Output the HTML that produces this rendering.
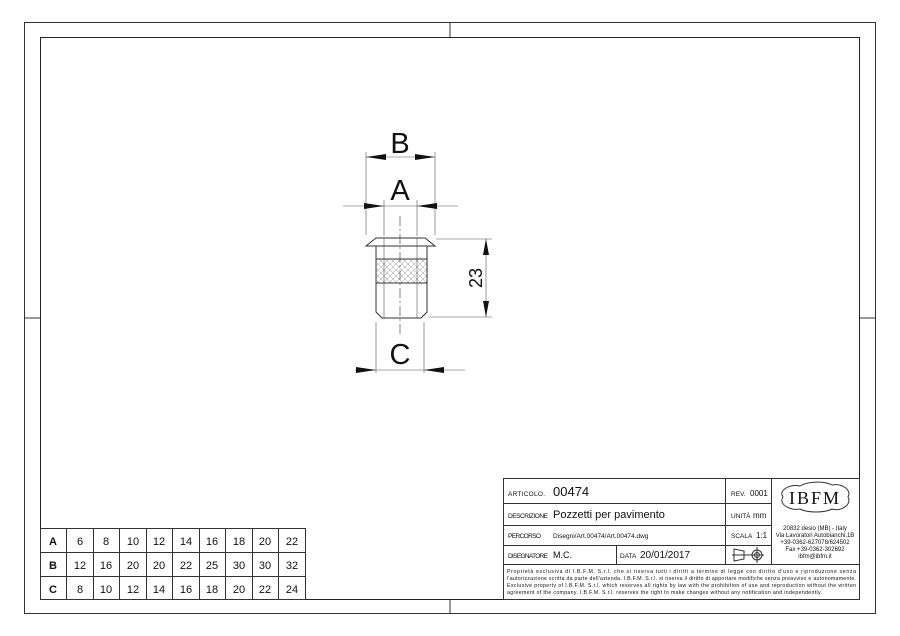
<!DOCTYPE html>
<html><head><style>
body{margin:0;background:#fff}
svg{display:block}
text{font-family:"Liberation Sans",sans-serif;fill:#111}
</style></head><body>
<svg width="900" height="636" viewBox="0 0 900 636" xmlns="http://www.w3.org/2000/svg">
<defs>
<pattern id="kn" width="6" height="6" patternUnits="userSpaceOnUse"><path d="M0 0L6 6M6 0L0 6" stroke="#999" stroke-width="0.5"/></pattern>
</defs>
<rect x="24.5" y="22.5" width="851" height="591" fill="none" stroke="#333" stroke-width="1"/>
<rect x="40.5" y="37.5" width="819" height="562" fill="none" stroke="#222" stroke-width="1"/>
<g stroke="#333" stroke-width="1">
<line x1="450" y1="22" x2="450" y2="37"/><line x1="450" y1="600" x2="450" y2="614"/>
<line x1="24" y1="318" x2="40" y2="318"/><line x1="860" y1="318" x2="876" y2="318"/>
</g>
<g stroke="#333" stroke-width="1" fill="none">
<rect x="376" y="259" width="52" height="24" fill="url(#kn)" stroke="none"/>
<path d="M366 246 L376 238 L425 238 L435 246 Z"/>
<path d="M376 246 L376 312 L382 318 L421 318 L427 312 L427 246"/>
<line x1="376" y1="259" x2="427" y2="259"/><line x1="376" y1="283" x2="427" y2="283"/>
<line x1="384" y1="238" x2="384" y2="318" stroke-width="0.5"/><line x1="417" y1="238" x2="417" y2="318" stroke-width="0.5"/>
<line x1="400" y1="216" x2="400" y2="335" stroke-width="0.6" stroke-dasharray="10,3,2,3"/>
</g>
<g stroke="#555" stroke-width="0.6">
<line x1="366" y1="152" x2="366" y2="235"/><line x1="435" y1="152" x2="435" y2="235"/>
<line x1="366" y1="157" x2="435" y2="157"/>
<line x1="384" y1="200" x2="384" y2="236"/><line x1="417" y1="200" x2="417" y2="236"/>
<line x1="343" y1="206" x2="458" y2="206"/>
<line x1="376" y1="322" x2="376" y2="373"/><line x1="424" y1="322" x2="424" y2="373"/>
<line x1="355" y1="370" x2="465" y2="370"/>
<line x1="436" y1="239" x2="492" y2="239"/><line x1="428" y1="317" x2="492" y2="317"/>
<line x1="486" y1="239" x2="486" y2="317"/>
</g>
<g fill="#111">
<path d="M366 157 L386 154 L386 160Z"/><path d="M435 157 L415 154 L415 160Z"/>
<path d="M384 206 L364 203 L364 209Z"/><path d="M417 206 L437 203 L437 209Z"/>
<path d="M376 370 L356 367 L356 373Z"/><path d="M424 370 L444 367 L444 373Z"/>
<path d="M486 239 L483 255 L489 255Z"/><path d="M486 317 L483 301 L489 301Z"/>
</g>
<text x="400" y="153" font-size="29" text-anchor="middle">B</text>
<text x="400" y="200" font-size="29" text-anchor="middle">A</text>
<text x="400" y="364" font-size="29" text-anchor="middle">C</text>
<text transform="translate(482,278) rotate(-90)" font-size="18" text-anchor="middle">23</text>
<g stroke="#333" stroke-width="1" fill="none">
<rect x="40.5" y="528.5" width="265" height="71"/>
<line x1="40" y1="552.5" x2="305" y2="552.5"/><line x1="40" y1="576.5" x2="305" y2="576.5"/>
<line x1="66.5" y1="528" x2="66.5" y2="600"/><line x1="93.5" y1="528" x2="93.5" y2="600"/>
<line x1="119.5" y1="528" x2="119.5" y2="600"/><line x1="146.5" y1="528" x2="146.5" y2="600"/>
<line x1="172.5" y1="528" x2="172.5" y2="600"/><line x1="199.5" y1="528" x2="199.5" y2="600"/>
<line x1="225.5" y1="528" x2="225.5" y2="600"/><line x1="252.5" y1="528" x2="252.5" y2="600"/>
<line x1="278.5" y1="528" x2="278.5" y2="600"/>
</g>
<g font-size="11" text-anchor="middle">
<text x="53" y="545" font-weight="bold">A</text><text x="53" y="569" font-weight="bold">B</text><text x="53" y="593" font-weight="bold">C</text>
<text x="80" y="545">6</text><text x="106" y="545">8</text><text x="133" y="545">10</text><text x="159" y="545">12</text><text x="186" y="545">14</text><text x="212" y="545">16</text><text x="239" y="545">18</text><text x="265" y="545">20</text><text x="292" y="545">22</text>
<text x="80" y="569">12</text><text x="106" y="569">16</text><text x="133" y="569">20</text><text x="159" y="569">20</text><text x="186" y="569">22</text><text x="212" y="569">25</text><text x="239" y="569">30</text><text x="265" y="569">30</text><text x="292" y="569">32</text>
<text x="80" y="593">8</text><text x="106" y="593">10</text><text x="133" y="593">12</text><text x="159" y="593">14</text><text x="186" y="593">16</text><text x="212" y="593">18</text><text x="239" y="593">20</text><text x="265" y="593">22</text><text x="292" y="593">24</text>
</g>
<g stroke="#333" stroke-width="1" fill="none">
<rect x="503.5" y="478.5" width="356" height="121"/>
<line x1="503" y1="503.5" x2="771" y2="503.5"/><line x1="503" y1="525.5" x2="771" y2="525.5"/>
<line x1="503" y1="545.5" x2="771" y2="545.5"/><line x1="503" y1="564.5" x2="860" y2="564.5"/>
<line x1="725.5" y1="478" x2="725.5" y2="564"/><line x1="771.5" y1="478" x2="771.5" y2="564"/>
<line x1="616.5" y1="545" x2="616.5" y2="564"/>
<path d="M783 497 C778 490 790 484 800 486 C808 481 825 481 832 485 C842 483 852 490 848 497 C852 504 842 512 832 509 C824 513 808 513 800 509 C790 511 778 504 783 497Z"/>
<path d="M734 549 L744 551 L744 559 L734 561 Z M732 555 L750 555"/>
<circle cx="757" cy="555" r="5"/><circle cx="757" cy="555" r="2.5"/><line x1="750" y1="555" x2="764" y2="555"/><line x1="757" y1="547" x2="757" y2="563"/>
</g>
<g font-size="6.5">
<text x="508" y="496" textLength="37">ARTICOLO.</text><text x="553" y="496" font-size="13" fill="#555">00474</text>
<text x="508" y="518" textLength="40">DESCRIZIONE</text><text x="553" y="518" font-size="11" fill="#444">Pozzetti per pavimento</text>
<text x="508" y="538" textLength="33">PERCORSO</text><text x="553" y="538" font-size="6.5">Disegni/Art.00474/Art.00474.dwg</text>
<text x="508" y="558" textLength="40">DISEGNATORE</text><text x="553" y="558" font-size="9" fill="#444">M.C.</text>
<text x="620" y="558">DATA</text><text x="640" y="558" font-size="10" fill="#444">20/01/2017</text>
<text x="731" y="496">REV.</text><text x="750" y="496" font-size="8">0001</text>
<text x="731" y="518">UNITÀ</text><text x="753" y="518" font-size="8">mm</text>
<text x="731" y="538">SCALA</text><text x="756" y="538" font-size="8">1:1</text>
<text x="815" y="504" font-size="18" text-anchor="middle" fill="#333" letter-spacing="2" style="font-family:'Liberation Serif',serif">IBFM</text>
<g font-size="6" text-anchor="middle">
<text x="815" y="530">20832 desio (MB) - Italy</text>
<text x="815" y="537">Via Lavoratori Autobianchi,1B</text>
<text x="815" y="544">+39-0362-627078/624502</text>
<text x="815" y="551">Fax +39-0362-302692</text>
<text x="815" y="558">ibfm@ibfm.it</text>
</g>
<g font-size="5.2">
<text x="507" y="573" textLength="349">Proprietà esclusiva di I.B.F.M. S.r.l. che si riserva tutti i diritti a termine di legge con diritto d'uso e riproduzione senza</text>
<text x="507" y="580" textLength="349">l'autorizzazione scritta da parte dell'azienda. I.B.F.M. S.r.l. si riserva il diritto di apportare modifiche senza preavviso e autonomamente.</text>
<text x="507" y="587" textLength="349">Exclusive property of I.B.F.M. S.r.l. which reserves all rights by law with the prohibition of use and reproduction without the written</text>
<text x="507" y="594" textLength="315">agreement of the company. I.B.F.M. S.r.l. reserves the right to make changes without any notification and independently.</text>
</g>
</g>
</svg>
</body></html>
